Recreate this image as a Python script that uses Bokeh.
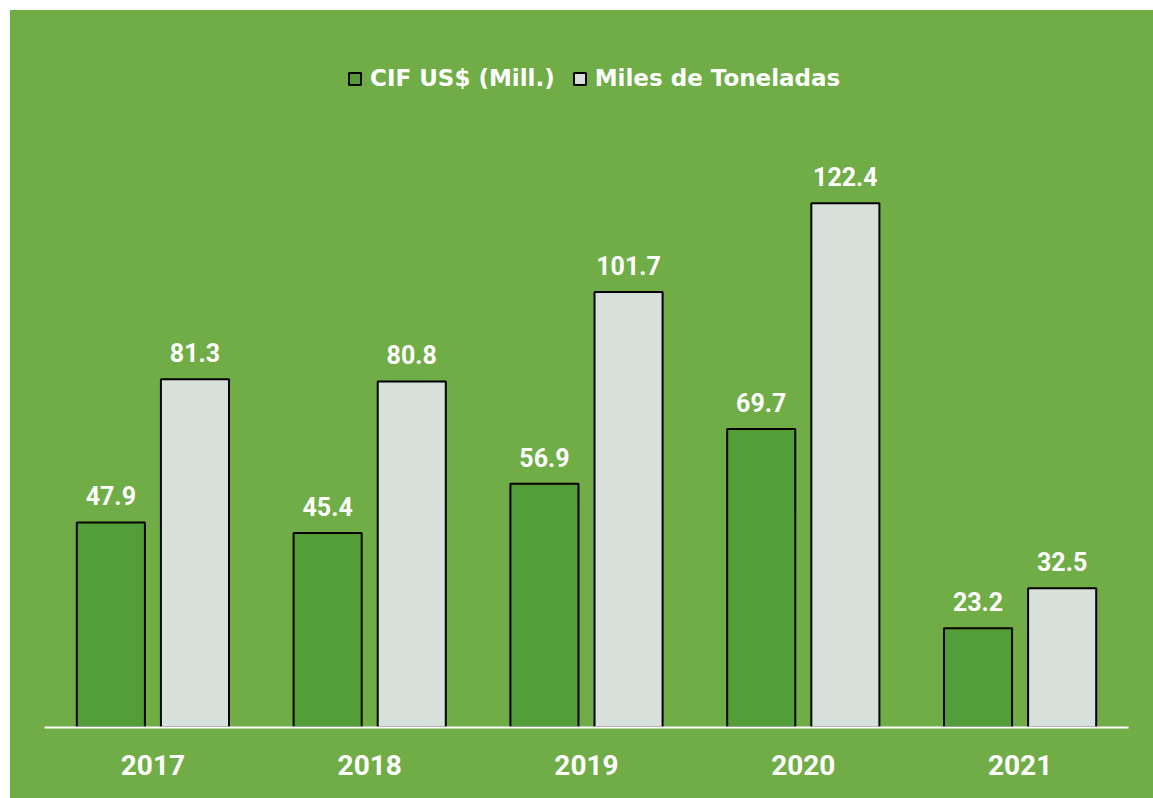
from bokeh.plotting import figure
from bokeh.models import ColumnDataSource, Range1d, FactorRange, Legend, LegendItem, LabelSet
from bokeh.transform import dodge
from bokeh.core.properties import value
from bokeh.embed import file_html
from bokeh.resources import INLINE

years = ["2017", "2018", "2019", "2020", "2021"]
cif = [47.9, 45.4, 56.9, 69.7, 23.2]
toneladas = [81.3, 80.8, 101.7, 122.4, 32.5]
series_names = ["CIF US$ (Mill.)", "Miles de Toneladas"]

BG = "#70AD47"
GREEN = "#549E39"
GRAY = "#D8E0DC"

src = ColumnDataSource(dict(
    years=years, cif=cif, ton=toneladas,
    cif_lbl=[f"{v:.1f}" for v in cif],
    ton_lbl=[f"{v:.1f}" for v in toneladas],
))

p = figure(x_range=FactorRange(factors=years, range_padding=0),
           y_range=Range1d(0, 165.1),
           width=1143, height=788, output_backend="svg", toolbar_location=None,
           min_border_left=34, min_border_right=25, min_border_top=10, min_border_bottom=71)
p.margin = (10, 0, 0, 10)
p.styles = {"background-color": BG}
p.background_fill_color = BG
p.background_fill_alpha = 0
p.border_fill_color = BG
p.border_fill_alpha = 0
p.outline_line_color = None
p.grid.visible = False
p.yaxis.visible = False

off = 0.194
w = 0.314
r1 = p.vbar(x=dodge("years", -off, range=p.x_range), top="cif", width=w, source=src,
            fill_color=GREEN, line_color="black", line_width=2)
r2 = p.vbar(x=dodge("years", off, range=p.x_range), top="ton", width=w, source=src,
            fill_color=GRAY, line_color="black", line_width=2)

for col, ycol, o in (("cif_lbl", "cif", -off), ("ton_lbl", "ton", off)):
    p.add_layout(LabelSet(x=dodge("years", o, range=p.x_range), y=ycol, text=col, source=src,
                          text_align="center", text_baseline="alphabetic", y_offset=17,
                          text_color="white", text_font=value("Roboto"),
                          text_font_style="bold", text_font_size="25px"))

ax = p.xaxis[0]
ax.axis_line_color = "white"
ax.axis_line_width = 2
ax.major_tick_line_color = None
ax.minor_tick_line_color = None
ax.major_label_text_color = "white"
ax.major_label_text_font = "Roboto"
ax.major_label_text_font_style = "bold"
ax.major_label_text_font_size = "28px"
ax.major_label_standoff = 21

legend = Legend(items=[LegendItem(label=series_names[0], renderers=[r1]),
                       LegendItem(label=series_names[1], renderers=[r2])],
                location=(303, 636), orientation="horizontal",
                background_fill_alpha=0, border_line_color=None, padding=0,
                glyph_width=15, glyph_height=15, label_standoff=8, spacing=17,
                label_text_color="white", label_text_font="DejaVu Sans",
                label_text_font_style="bold", label_text_font_size="23px")
p.add_layout(legend, "center")

open("out.html", "w").write(file_html(p, INLINE))
